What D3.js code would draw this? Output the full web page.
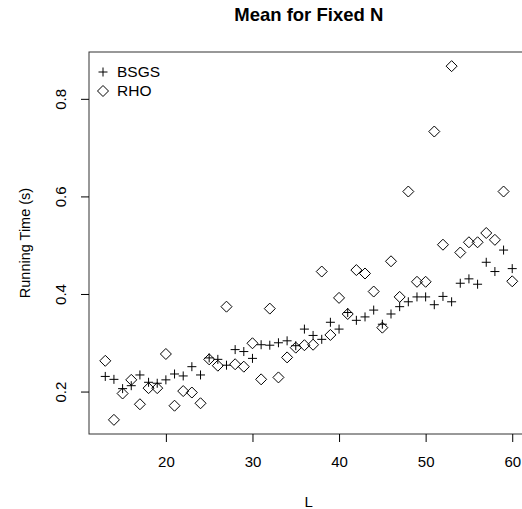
<!DOCTYPE html>
<html>
<head>
<meta charset="utf-8">
<script src="https://cdn.jsdelivr.net/npm/d3@7"></script>
<style>
  body { margin: 0; background: #fff; }
  svg { font-family: "Liberation Sans", Arial, sans-serif; }
</style>
</head>
<body>
<svg id="chart" width="522" height="509"></svg>
<script>
// L values (x axis)
const L = [13, 14, 15, 16, 17, 18, 19, 20, 21, 22, 23, 24, 25, 26, 27, 28, 29, 30,
  31, 32, 33, 34, 35, 36, 37, 38, 39, 40, 41, 42, 43, 44, 45, 46, 47, 48, 49, 50,
  51, 52, 53, 54, 55, 56, 57, 58, 59, 60];

// mean running time, seconds
const bsgs = [0.231, 0.225, 0.206, 0.212, 0.234, 0.219, 0.217, 0.224, 0.236, 0.232,
  0.251, 0.234, 0.269, 0.266, 0.254, 0.286, 0.282, 0.268, 0.296, 0.295, 0.300, 0.304,
  0.294, 0.328, 0.315, 0.307, 0.342, 0.328, 0.362, 0.346, 0.353, 0.367, 0.338, 0.359,
  0.374, 0.384, 0.394, 0.394, 0.378, 0.395, 0.384, 0.422, 0.431, 0.420, 0.465, 0.446,
  0.490, 0.452];

const rho = [0.263, 0.142, 0.196, 0.224, 0.174, 0.207, 0.207, 0.277, 0.171, 0.201,
  0.198, 0.176, 0.266, 0.253, 0.374, 0.256, 0.251, 0.299, 0.225, 0.370, 0.229, 0.270,
  0.290, 0.295, 0.296, 0.446, 0.316, 0.392, 0.359, 0.449, 0.442, 0.405, 0.331, 0.467,
  0.394, 0.610, 0.425, 0.425, 0.733, 0.501, 0.867, 0.485, 0.506, 0.506, 0.525, 0.511,
  0.610, 0.426];

const xTicks = [20, 30, 40, 50, 60];
const yTicks = [0.2, 0.4, 0.6, 0.8];
const seriesNames = ['BSGS', 'RHO'];

const svg = d3.select('#chart');

const plotLeft = 89, plotRight = 528.5, plotTop = 52, plotBottom = 434;

// R style: pad the data range by 4%
const xExt = d3.extent(L);
const xPad = (xExt[1] - xExt[0]) * 0.04;
const yExt = d3.extent(bsgs.concat(rho));
const yPad = (yExt[1] - yExt[0]) * 0.04;

const x = d3.scaleLinear()
  .domain([xExt[0] - xPad, xExt[1] + xPad])
  .range([plotLeft, plotRight]);

const y = d3.scaleLinear()
  .domain([yExt[0] - yPad, yExt[1] + yPad])
  .range([plotBottom, plotTop]);

// plot box
svg.append('rect')
  .attr('x', plotLeft)
  .attr('y', plotTop)
  .attr('width', plotRight - plotLeft)
  .attr('height', plotBottom - plotTop)
  .attr('fill', 'none')
  .attr('stroke', '#333')
  .attr('stroke-width', 1);

// x axis
const xAxis = svg.append('g')
  .attr('transform', `translate(0,${plotBottom})`)
  .call(d3.axisBottom(x).tickValues(xTicks).tickSize(8).tickPadding(14).tickFormat(d3.format('d')));
xAxis.select('.domain').remove();
xAxis.selectAll('text')
  .attr('fill', '#000')
  .style('font-size', '15px')
  .style('font-family', '"Liberation Sans", Arial, sans-serif');

// y axis, labels turned like R's default
const yAxis = svg.append('g')
  .attr('transform', `translate(${plotLeft},0)`)
  .call(d3.axisLeft(y).tickValues(yTicks).tickSize(8).tickFormat(d3.format('.1f')));
yAxis.select('.domain').remove();
yAxis.selectAll('text')
  .attr('x', null)
  .attr('dy', null)
  .attr('fill', '#000')
  .attr('text-anchor', 'middle')
  .attr('transform', 'translate(-23,0) rotate(-90)')
  .style('font-size', '15px')
  .style('font-family', '"Liberation Sans", Arial, sans-serif');

// titles
svg.append('text')
  .attr('x', (plotLeft + plotRight) / 2)
  .attr('y', 21)
  .attr('text-anchor', 'middle')
  .style('font-size', '18.5px')
  .style('font-weight', 'bold')
  .text('Mean for Fixed N');

svg.append('text')
  .attr('x', (plotLeft + plotRight) / 2)
  .attr('y', 507)
  .attr('text-anchor', 'middle')
  .style('font-size', '15px')
  .text('L');

svg.append('text')
  .attr('transform', `translate(30,${(plotTop + plotBottom) / 2}) rotate(-90)`)
  .attr('text-anchor', 'middle')
  .style('font-size', '14.5px')
  .text('Running Time (s)');

// symbols
const plusPath = 'M-4.5,0H4.5M0,-4.5V4.5';
const diamondPath = 'M0,-5.5L5.5,0L0,5.5L-5.5,0Z';

svg.append('g')
  .selectAll('path')
  .data(rho)
  .join('path')
  .attr('transform', (d, i) => `translate(${x(L[i])},${y(d)})`)
  .attr('d', diamondPath)
  .attr('fill', 'none')
  .attr('stroke', '#000')
  .attr('stroke-width', 1);

svg.append('g')
  .selectAll('path')
  .data(bsgs)
  .join('path')
  .attr('transform', (d, i) => `translate(${x(L[i])},${y(d)})`)
  .attr('d', plusPath)
  .attr('fill', 'none')
  .attr('stroke', '#000')
  .attr('stroke-width', 1);

// legend, no box
const legend = svg.append('g')
  .attr('transform', 'translate(103,72)');

legend.selectAll('path')
  .data(seriesNames)
  .join('path')
  .attr('transform', (d, i) => `translate(0,${i * 19})`)
  .attr('d', (d, i) => i === 0 ? plusPath : diamondPath)
  .attr('fill', 'none')
  .attr('stroke', '#000')
  .attr('stroke-width', 1);

legend.selectAll('text')
  .data(seriesNames)
  .join('text')
  .attr('x', 14)
  .attr('y', (d, i) => i * 19)
  .attr('dy', '0.35em')
  .style('font-size', '15.5px')
  .text(d => d);
</script>
</body>
</html>
